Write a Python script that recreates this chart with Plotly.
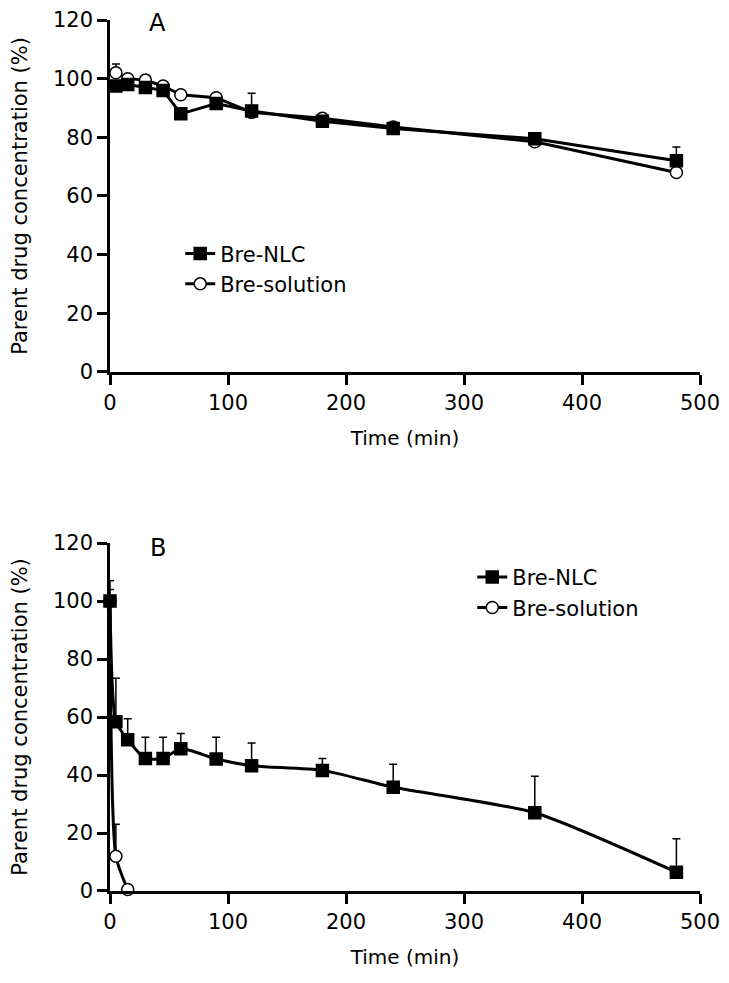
import plotly.graph_objects as go

# ---- Panel A data ----
time_a = [5, 15, 30, 45, 60, 90, 120, 180, 240, 360, 480]
nlc_a = [97.5, 98, 97, 96, 88, 91.5, 89, 85.5, 83, 79.5, 72]
nlc_a_err = [1.5, 1, 1, 1, 1.5, 1, 1.5, 1, 1, 1, 4.7]
sol_a = [102, 100, 99.5, 97.5, 94.5, 93.5, 88.5, 86.5, 83.5, 78.5, 68]
sol_a_err = [3, 1, 1, 1, 1, 1, 6.5, 1, 1, 1, 1]

# ---- Panel B data ----
time_b = [0, 5, 15, 30, 45, 60, 90, 120, 180, 240, 360, 480]
nlc_b = [100, 58.4, 52.2, 45.7, 45.7, 49.1, 45.5, 43.2, 41.6, 35.8, 27, 6.5]
nlc_b_err = [7, 15, 7.2, 7.3, 7.3, 5.2, 7.5, 7.8, 4.1, 7.9, 12.6, 11.5]
time_sol_b = [0, 5, 15]
sol_b = [100, 12, 0.5]
sol_b_err = [4, 11, 0]

x_ticks = [0, 100, 200, 300, 400, 500]
y_ticks = [0, 20, 40, 60, 80, 100, 120]

FONT = "DejaVu Sans, Liberation Sans, Arial, sans-serif"

fig = go.Figure()

def add_series(x, y, err, name, filled, xa, ya, legend, shape):
    fig.add_trace(go.Scatter(
        x=x, y=y, name=name, mode="lines+markers",
        xaxis=xa, yaxis=ya, legend=legend,
        line=dict(color="black", width=3, shape=shape, smoothing=0.6),
        marker=dict(symbol="square" if filled else "circle",
                    size=12,
                    color="black" if filled else "white",
                    line=dict(color="black", width=1.5)),
        error_y=dict(type="data", symmetric=False, array=err,
                     arrayminus=[0] * len(err), color="black",
                     thickness=1.5, width=4),
        cliponaxis=False,
    ))

add_series(time_a, sol_a, sol_a_err, "Bre-solution", False, "x", "y", "legend", "linear")
add_series(time_a, nlc_a, nlc_a_err, "Bre-NLC", True, "x", "y", "legend", "linear")
add_series(time_sol_b, sol_b, sol_b_err, "Bre-solution", False, "x2", "y2", "legend2", "spline")
add_series(time_b, nlc_b, nlc_b_err, "Bre-NLC", True, "x2", "y2", "legend2", "spline")

axis_common = dict(showline=True, linecolor="black", linewidth=2.5,
                   ticks="outside", ticklen=10, tickwidth=2.5, tickcolor="black",
                   showgrid=False, zeroline=False, automargin=False,
                   tickfont=dict(size=21, color="black", family=FONT))

xdef = dict(axis_common, range=[0, 500], tickvals=x_ticks,
            title=dict(text="Time (min)", font=dict(size=20, family=FONT, color="black"), standoff=18))
ydef = dict(axis_common, range=[0, 120], tickvals=y_ticks,
            title=dict(text="Parent drug concentration (%)", font=dict(size=21, family=FONT, color="black"), standoff=31))

legend_common = dict(font=dict(size=21, family=FONT, color="black"),
                     bgcolor="rgba(0,0,0,0)", traceorder="reversed",
                     itemwidth=30, tracegroupgap=0)

# page body adds an 8px offset; figure is shrunk and shifted to compensate
fig.update_layout(
    width=721, height=975,
    margin=dict(l=102, r=29, t=12, b=92, autoexpand=False),
    paper_bgcolor="white", plot_bgcolor="white",
    showlegend=True,
    xaxis=dict(xdef, domain=[0, 1], anchor="y"),
    yaxis=dict(ydef, domain=[0.596, 1.0], anchor="x"),
    xaxis2=dict(xdef, domain=[0, 1], anchor="y2"),
    yaxis2=dict(ydef, domain=[0.0, 0.3995], anchor="x2"),
    legend=dict(legend_common, x=0.119, y=0.755, xanchor="left", yanchor="top"),
    legend2=dict(legend_common, x=0.614, y=0.3835, xanchor="left", yanchor="top"),
    annotations=[
        dict(text="A", x=0.081, y=0.9966, xref="paper", yref="paper",
             xanchor="center", yanchor="middle", showarrow=False,
             font=dict(size=24, family=FONT, color="black")),
        dict(text="B", x=0.081, y=0.3938, xref="paper", yref="paper",
             xanchor="center", yanchor="middle", showarrow=False,
             font=dict(size=24, family=FONT, color="black")),
    ],
)

fig.write_html("out.html")
